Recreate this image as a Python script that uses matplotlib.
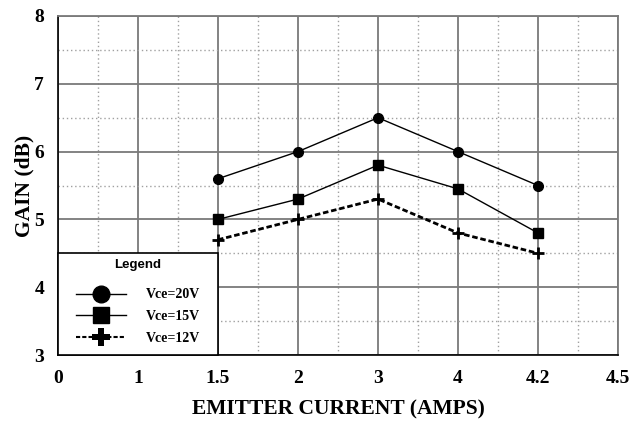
import numpy as np
import matplotlib
matplotlib.use("Agg")
import matplotlib.pyplot as plt
from matplotlib.patches import Rectangle
from matplotlib.lines import Line2D
from matplotlib.ticker import MultipleLocator

###############################################################################
### Data ######################################################################
###############################################################################
x_tick_labels = ["0", "1", "1.5", "2", "3", "4", "4.2", "4.5"]
current_amps = ["1.5", "2", "3", "4", "4.2"]

gain_20v = [5.6, 6.0, 6.5, 6.0, 5.5]
gain_15v = [5.0, 5.3, 5.8, 5.45, 4.8]
gain_12v = [4.7, 5.0, 5.3, 4.8, 4.5]

# x axis is evenly spaced by category, not by value
x_pos = [x_tick_labels.index(c) for c in current_amps]

###############################################################################
### Plot ######################################################################
###############################################################################
plt.rcParams["font.family"] = "Liberation Serif"
plt.rcParams["font.weight"] = "bold"

fig = plt.figure(figsize=(6.33, 4.23), dpi=100)
ax = fig.add_axes([58 / 633, 68 / 423, 560 / 633, 339 / 423])

ax.set_xlim(0, len(x_tick_labels) - 1)
ax.set_ylim(3, 8)
ax.set_xticks(range(len(x_tick_labels)))
ax.set_xticklabels(x_tick_labels)
ax.xaxis.set_minor_locator(MultipleLocator(0.5))
ax.yaxis.set_major_locator(MultipleLocator(1))
ax.yaxis.set_minor_locator(MultipleLocator(0.5))
ax.tick_params(which="both", length=0, labelsize=14)
ax.tick_params(axis="x", pad=11)
ax.tick_params(axis="y", pad=10)

ax.grid(True, which="major", color="#7a7a7a", linewidth=1.3)
ax.grid(True, which="minor", color="#a0a0a0", linewidth=1.0, linestyle=(0, (1, 2)))
ax.set_axisbelow(True)

for side in ["top", "right"]:
    ax.spines[side].set_color("#7a7a7a")
    ax.spines[side].set_linewidth(1.3)
for side in ["left", "bottom"]:
    ax.spines[side].set_color("black")
    ax.spines[side].set_linewidth(1.2)

ax.plot(x_pos, gain_20v, color="black", linewidth=1.0,
        marker="o", markersize=7, zorder=4)
ax.plot(x_pos, gain_15v, color="black", linewidth=1.0,
        marker="s", markersize=7, zorder=4)
ax.plot(x_pos, gain_12v, color="black", linewidth=2.0, linestyle=(0, (2, 1)),
        marker="+", markersize=8, markeredgewidth=2, zorder=4)

ax.set_xlabel("EMITTER CURRENT (AMPS)", fontsize=15.5, fontweight="bold", labelpad=9)
ax.set_ylabel("GAIN (dB)", fontsize=15.5, fontweight="bold", labelpad=0)

# legend box sits in the lower-left cell block
box_w = 2 / (len(x_tick_labels) - 1)
box_h = 1.5 / 5
ax.add_patch(Rectangle((0, 0), box_w, box_h, transform=ax.transAxes,
                       facecolor="white", edgecolor="black", linewidth=1.2,
                       zorder=5, clip_on=False))
ax.text(box_w / 2, box_h - 0.035, "Legend", transform=ax.transAxes,
        ha="center", va="center", fontsize=9.5, fontweight="bold",
        family="Liberation Sans", zorder=6)

leg_handles = [
    Line2D([], [], color="black", linewidth=1.0, marker="o", markersize=12),
    Line2D([], [], color="black", linewidth=1.0, marker="s", markersize=12),
    Line2D([], [], color="black", linewidth=1.5, linestyle=(0, (2, 1)),
           marker="P", markersize=13, markeredgewidth=0),
]
leg = ax.legend(leg_handles, ["Vce=20V", "Vce=15V", "Vce=12V"], loc="lower center",
                bbox_to_anchor=(box_w / 2, 0.0), frameon=False,
                handlelength=3.6, labelspacing=0.62,
                handletextpad=1.4, borderaxespad=0.35,
                prop={"family": "Liberation Serif", "weight": "bold", "size": 10})
leg.set_zorder(6)

fig.savefig("out.png", dpi=100)
